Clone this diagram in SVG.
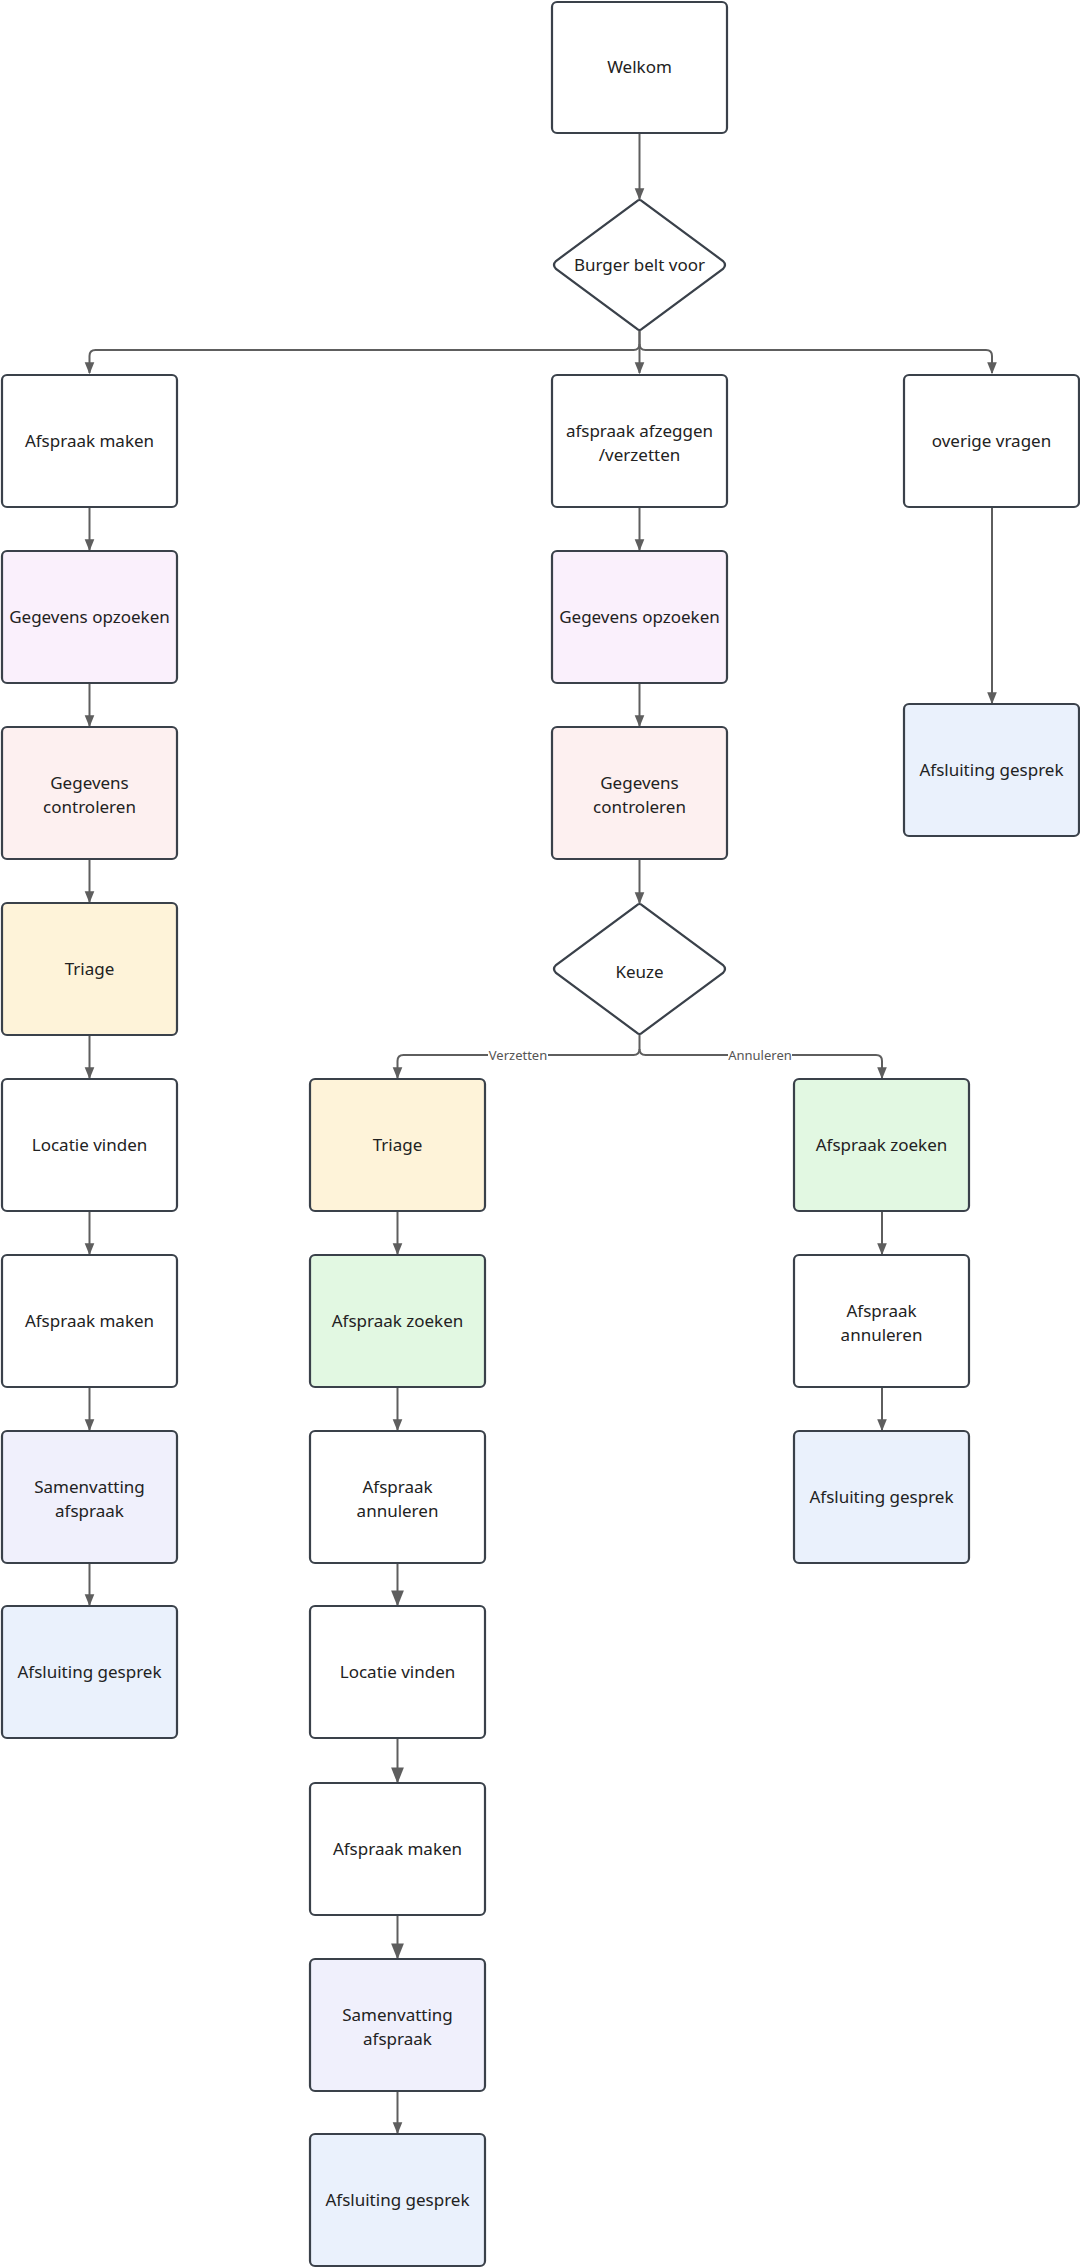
<svg xmlns="http://www.w3.org/2000/svg" width="1080" height="2268" viewBox="0 0 1080 2268">
<style>
.n{stroke:#3a414a;stroke-width:2.2}
.t{font-family:"Noto Sans",sans-serif;font-size:17px;fill:#222;text-anchor:middle}
.c{fill:none;stroke:#5e5e5e;stroke-width:2}
.l{font-family:"Noto Sans",sans-serif;font-size:13px;fill:#555;text-anchor:middle}
.w{fill:#fff}.p{fill:#FAF0FC}.r{fill:#FDF0F0}.y{fill:#FEF3D9}.g{fill:#E2F8E2}.v{fill:#F0F0FC}.b{fill:#EAF1FC}
</style>
<defs>
<marker id="a" viewBox="0 0 10 10" refX="9" refY="5" markerWidth="6" markerHeight="6" orient="auto"><path d="M0,1 L10,5 L0,9Z" fill="#5e5e5e"/></marker>
<marker id="A" viewBox="0 0 10 10" refX="9" refY="5" markerWidth="9" markerHeight="8" orient="auto"><path d="M0,1 L10,5 L0,9Z" fill="#5e5e5e"/></marker>
</defs>
<rect width="1080" height="2268" fill="#fff"/>
<g id="connectors">
<path class="c" d="M639.5,133 V199" marker-end="url(#a)"/>
<path class="c" d="M639.5,330 V344 Q639.5,350 633.5,350 H95.5 Q89.5,350 89.5,356 V373" marker-end="url(#a)"/>
<path class="c" d="M639.5,330 V373" marker-end="url(#a)"/>
<path class="c" d="M639.5,344 Q639.5,350 645.5,350 H986 Q992,350 992,356 V373" marker-end="url(#a)"/>
<path class="c" d="M89.5,507 V550" marker-end="url(#a)"/>
<path class="c" d="M89.5,683 V726" marker-end="url(#a)"/>
<path class="c" d="M89.5,859 V902" marker-end="url(#a)"/>
<path class="c" d="M89.5,1035 V1078" marker-end="url(#a)"/>
<path class="c" d="M89.5,1211 V1254" marker-end="url(#a)"/>
<path class="c" d="M89.5,1387 V1430" marker-end="url(#a)"/>
<path class="c" d="M89.5,1563 V1605" marker-end="url(#a)"/>
<path class="c" d="M639.5,507 V550" marker-end="url(#a)"/>
<path class="c" d="M639.5,683 V726" marker-end="url(#a)"/>
<path class="c" d="M639.5,859 V903" marker-end="url(#a)"/>
<path class="c" d="M992,507 V703" marker-end="url(#a)"/>
<path class="c" d="M639.5,1034 V1049 Q639.5,1055 633.5,1055 H403.5 Q397.5,1055 397.5,1061 V1078" marker-end="url(#a)"/>
<path class="c" d="M639.5,1049 Q639.5,1055 645.5,1055 H876 Q882,1055 882,1061 V1078" marker-end="url(#a)"/>
<path class="c" d="M397.5,1211 V1254" marker-end="url(#a)"/>
<path class="c" d="M397.5,1387 V1430" marker-end="url(#a)"/>
<path class="c" d="M397.5,1563 V1605" marker-end="url(#A)"/>
<path class="c" d="M397.5,1738 V1782" marker-end="url(#A)"/>
<path class="c" d="M397.5,1915 V1958" marker-end="url(#A)"/>
<path class="c" d="M397.5,2091 V2133" marker-end="url(#a)"/>
<path class="c" d="M882,1211 V1254" marker-end="url(#a)"/>
<path class="c" d="M882,1387 V1430" marker-end="url(#a)"/>
<rect x="488" y="1047" width="60" height="16" fill="#fff"/>
<text class="l" x="518" y="1060">Verzetten</text>
<rect x="728" y="1047" width="64" height="16" fill="#fff"/>
<text class="l" x="760" y="1060">Annuleren</text>
</g>
<g id="welkom"><rect class="n w" x="552" y="2" width="175" height="131" rx="5"/><text class="t" x="639.5" y="73">Welkom</text></g>
<g id="burger"><path class="n w" d="M636,202 Q639.5,198 643,202 L723,261 Q727,265 723,269 L643,328 Q639.5,332 636,328 L556,269 Q552,265 556,261Z"/><text class="t" x="639.5" y="271">Burger belt voor</text></g>
<g id="l1"><rect class="n w" x="2" y="375" width="175" height="132" rx="5"/><text class="t" x="89.5" y="447">Afspraak maken</text></g>
<g id="l2"><rect class="n p" x="2" y="551" width="175" height="132" rx="5"/><text class="t" x="89.5" y="623">Gegevens opzoeken</text></g>
<g id="l3"><rect class="n r" x="2" y="727" width="175" height="132" rx="5"/><text class="t" x="89.5" y="789">Gegevens</text><text class="t" x="89.5" y="813">controleren</text></g>
<g id="l4"><rect class="n y" x="2" y="903" width="175" height="132" rx="5"/><text class="t" x="89.5" y="975">Triage</text></g>
<g id="l5"><rect class="n w" x="2" y="1079" width="175" height="132" rx="5"/><text class="t" x="89.5" y="1151">Locatie vinden</text></g>
<g id="l6"><rect class="n w" x="2" y="1255" width="175" height="132" rx="5"/><text class="t" x="89.5" y="1327">Afspraak maken</text></g>
<g id="l7"><rect class="n v" x="2" y="1431" width="175" height="132" rx="5"/><text class="t" x="89.5" y="1493">Samenvatting</text><text class="t" x="89.5" y="1517">afspraak</text></g>
<g id="l8"><rect class="n b" x="2" y="1606" width="175" height="132" rx="5"/><text class="t" x="89.5" y="1678">Afsluiting gesprek</text></g>
<g id="c1"><rect class="n w" x="552" y="375" width="175" height="132" rx="5"/><text class="t" x="639.5" y="437">afspraak afzeggen</text><text class="t" x="639.5" y="461">/verzetten</text></g>
<g id="c2"><rect class="n p" x="552" y="551" width="175" height="132" rx="5"/><text class="t" x="639.5" y="623">Gegevens opzoeken</text></g>
<g id="c3"><rect class="n r" x="552" y="727" width="175" height="132" rx="5"/><text class="t" x="639.5" y="789">Gegevens</text><text class="t" x="639.5" y="813">controleren</text></g>
<g id="keuze"><path class="n w" d="M636,906 Q639.5,902 643,906 L723,965 Q727,969 723,973 L643,1032 Q639.5,1036 636,1032 L556,973 Q552,969 556,965Z"/><text class="t" x="639.5" y="978">Keuze</text></g>
<g id="r1"><rect class="n w" x="904" y="375" width="175" height="132" rx="5"/><text class="t" x="991.5" y="447">overige vragen</text></g>
<g id="r2"><rect class="n b" x="904" y="704" width="175" height="132" rx="5"/><text class="t" x="991.5" y="776">Afsluiting gesprek</text></g>
<g id="m1"><rect class="n y" x="310" y="1079" width="175" height="132" rx="5"/><text class="t" x="397.5" y="1151">Triage</text></g>
<g id="m2"><rect class="n g" x="310" y="1255" width="175" height="132" rx="5"/><text class="t" x="397.5" y="1327">Afspraak zoeken</text></g>
<g id="m3"><rect class="n w" x="310" y="1431" width="175" height="132" rx="5"/><text class="t" x="397.5" y="1493">Afspraak</text><text class="t" x="397.5" y="1517">annuleren</text></g>
<g id="m4"><rect class="n w" x="310" y="1606" width="175" height="132" rx="5"/><text class="t" x="397.5" y="1678">Locatie vinden</text></g>
<g id="m5"><rect class="n w" x="310" y="1783" width="175" height="132" rx="5"/><text class="t" x="397.5" y="1855">Afspraak maken</text></g>
<g id="m6"><rect class="n v" x="310" y="1959" width="175" height="132" rx="5"/><text class="t" x="397.5" y="2021">Samenvatting</text><text class="t" x="397.5" y="2045">afspraak</text></g>
<g id="m7"><rect class="n b" x="310" y="2134" width="175" height="132" rx="5"/><text class="t" x="397.5" y="2206">Afsluiting gesprek</text></g>
<g id="a1"><rect class="n g" x="794" y="1079" width="175" height="132" rx="5"/><text class="t" x="881.5" y="1151">Afspraak zoeken</text></g>
<g id="a2"><rect class="n w" x="794" y="1255" width="175" height="132" rx="5"/><text class="t" x="881.5" y="1317">Afspraak</text><text class="t" x="881.5" y="1341">annuleren</text></g>
<g id="a3"><rect class="n b" x="794" y="1431" width="175" height="132" rx="5"/><text class="t" x="881.5" y="1503">Afsluiting gesprek</text></g>
</svg>
